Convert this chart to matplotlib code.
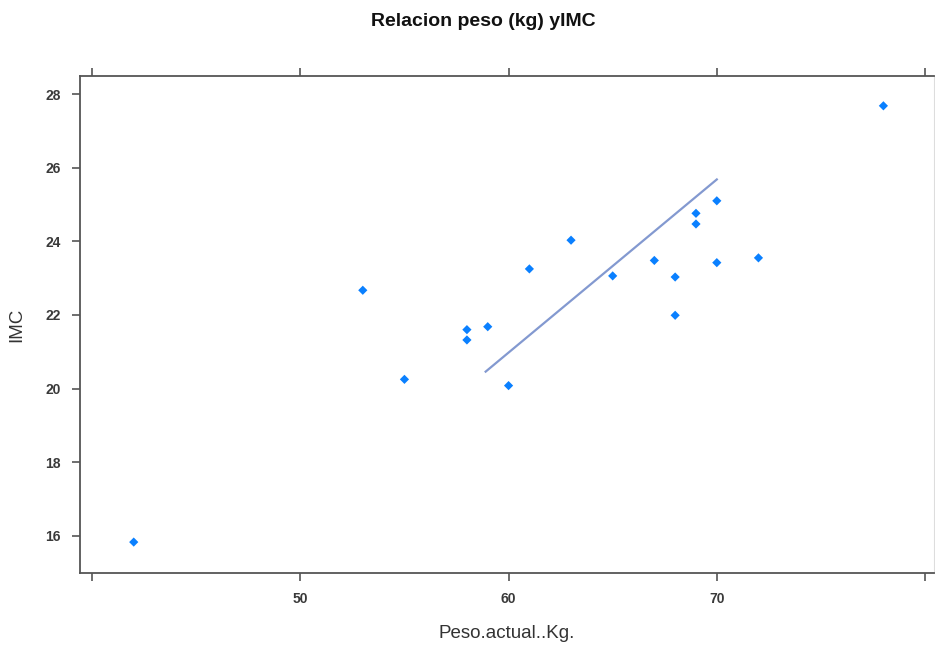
import matplotlib
matplotlib.use("Agg")
import matplotlib.pyplot as plt

peso = [42, 53, 55, 58, 58, 59, 60, 61, 63, 65, 67, 68, 68, 69, 69, 70, 70, 72, 78]
imc = [15.83, 22.67, 20.25, 21.6, 21.32, 21.68, 20.08, 23.25, 24.03, 23.06, 23.48,
       23.03, 21.99, 24.76, 24.47, 25.1, 23.42, 23.55, 27.68]
line_x = [58.9, 70.0]
line_y = [20.46, 25.68]
x_ticks = [40, 50, 60, 70, 80]
x_labels = ["", "50", "60", "70", ""]
y_ticks = [16, 18, 20, 22, 24, 26, 28]

plt.rcParams['font.family'] = ['Liberation Sans', 'DejaVu Sans']

fig = plt.figure(figsize=(9.35, 6.49), dpi=100)
ax = fig.add_axes([80/935, 1-573/649, (934-80)/935, (573-76)/649])

ax.plot(line_x, line_y, color='#8399d0', lw=1.6, zorder=2)
ax.scatter(peso, imc, marker='D', s=22, color='#0a80ff', edgecolors='none', zorder=3)

ax.set_xlim(39.42, 80.43)
ax.set_ylim(14.99, 28.49)
ax.set_xticks(x_ticks)
ax.set_xticklabels(x_labels)
ax.set_yticks(y_ticks)
ax.set_yticklabels([str(t) for t in y_ticks])

for s in ax.spines.values():
    s.set_color('#555555')
    s.set_linewidth(1.3)
ax.spines['right'].set_color('#dddddd')
ax.spines['right'].set_linewidth(0.8)
ax.tick_params(axis='both', which='both', direction='out', length=6, width=1.2,
               color='#555555', labelsize=10, labelcolor='#3a3a3a', pad=8,
               top=True, right=False)
for lab in ax.get_xticklabels() + ax.get_yticklabels():
    lab.set_fontweight('bold')

ax.set_xlabel('Peso.actual..Kg.', fontsize=13.5, color='#333333', labelpad=13)
ax.set_ylabel('IMC', fontsize=13.5, color='#333333', labelpad=14)
fig.text(483/935, 1-22/649, 'Relacion peso (kg) yIMC', ha='center', va='center',
         fontsize=14, fontweight='bold', color='#111111')

fig.savefig('out.png', dpi=100)
